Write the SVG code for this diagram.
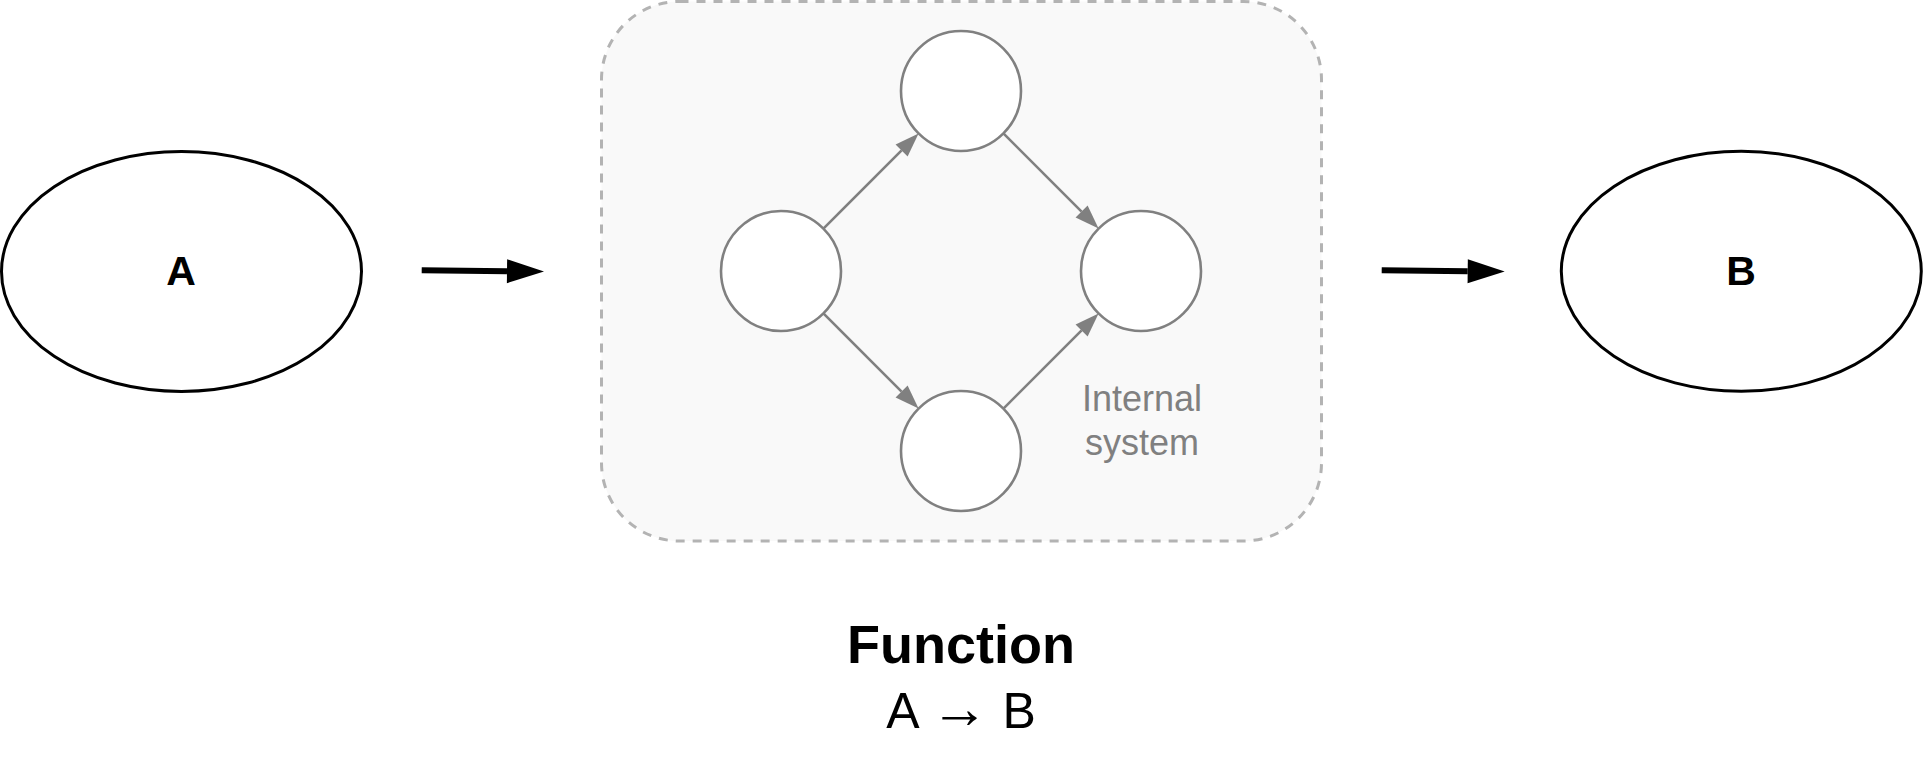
<svg xmlns="http://www.w3.org/2000/svg" width="1923" height="768" viewBox="0 0 1923 768">
  <style>
    .outer { fill: #ffffff; stroke: #000000; stroke-width: 3; }
    .inner { fill: #ffffff; stroke: #808080; stroke-width: 2.6; }
    .bigtxt { font-family: "Liberation Sans", Arial, Helvetica, sans-serif; font-weight: bold; font-size: 41px; fill: #000000; text-anchor: middle; }
    .bigedge { stroke: #000000; stroke-width: 6; fill: none; }
    .smalledge { stroke: #808080; stroke-width: 2.6; fill: none; }
    .label { font-family: "Liberation Sans", Arial, Helvetica, sans-serif; font-size: 36px; fill: #808080; text-anchor: middle; }
    .title { font-family: "Liberation Sans", Arial, Helvetica, sans-serif; font-weight: bold; font-size: 54px; fill: #000000; text-anchor: middle; }
    .sub { font-family: "Liberation Sans", "DejaVu Sans", Arial, sans-serif; font-size: 50px; fill: #000000; text-anchor: middle; }
    .arr { font-weight: bold; font-size: 58px; }
  </style>
  <defs>
    <marker id="bigArrow" markerUnits="userSpaceOnUse" markerWidth="38" markerHeight="26" refX="0" refY="12" orient="auto" viewBox="0 0 38 24" overflow="visible">
      <path d="M0,0 L37,12 L0,24 z" fill="#000000"/>
    </marker>
    <marker id="smallArrow" markerUnits="userSpaceOnUse" markerWidth="25" markerHeight="18" refX="0" refY="8.5" orient="auto" viewBox="0 0 25 17" overflow="visible">
      <path d="M0,0 L24,8.5 L0,17 z" fill="#808080"/>
    </marker>
  </defs>

  <g id="container">
    <rect x="601.5" y="1.5" width="720" height="539.5" rx="78" ry="78" fill="#f9f9f9" stroke="#b3b3b3" stroke-width="3" stroke-dasharray="9 8"/>
  </g>

  <g id="node-A">
    <ellipse class="outer" cx="181.5" cy="271.5" rx="180" ry="120"/>
    <text class="bigtxt" x="181" y="285">A</text>
  </g>

  <g id="node-B">
    <ellipse class="outer" cx="1741.3" cy="271.3" rx="180" ry="120"/>
    <text class="bigtxt" x="1741" y="285">B</text>
  </g>

  <g id="node-left">
    <circle class="inner" cx="781" cy="271" r="60"/>
  </g>
  <g id="node-top">
    <circle class="inner" cx="961" cy="91" r="60"/>
  </g>
  <g id="node-right">
    <circle class="inner" cx="1141" cy="271" r="60"/>
  </g>
  <g id="node-bottom">
    <circle class="inner" cx="961" cy="451" r="60"/>
  </g>

  <g id="label-internal">
    <text class="label" x="1142" y="411">Internal</text>
    <text class="label" x="1142" y="455">system</text>
  </g>

  <g id="connectors">
    <line class="bigedge" x1="421.7" y1="270.3" x2="507" y2="271.2" marker-end="url(#bigArrow)"/>
    <line class="bigedge" x1="1381.7" y1="270.3" x2="1467.7" y2="271.2" marker-end="url(#bigArrow)"/>
    <line class="smalledge" x1="823.4" y1="228.6" x2="901.6" y2="150.4" marker-end="url(#smallArrow)"/>
    <line class="smalledge" x1="1003.4" y1="133.4" x2="1081.6" y2="211.6" marker-end="url(#smallArrow)"/>
    <line class="smalledge" x1="823.4" y1="313.4" x2="901.6" y2="391.6" marker-end="url(#smallArrow)"/>
    <line class="smalledge" x1="1003.4" y1="408.6" x2="1081.6" y2="330.4" marker-end="url(#smallArrow)"/>
  </g>

  <g id="caption">
    <text class="title" x="961" y="663">Function</text>
    <text class="sub" x="961" y="728">A <tspan class="arr">→</tspan> B</text>
  </g>
</svg>
